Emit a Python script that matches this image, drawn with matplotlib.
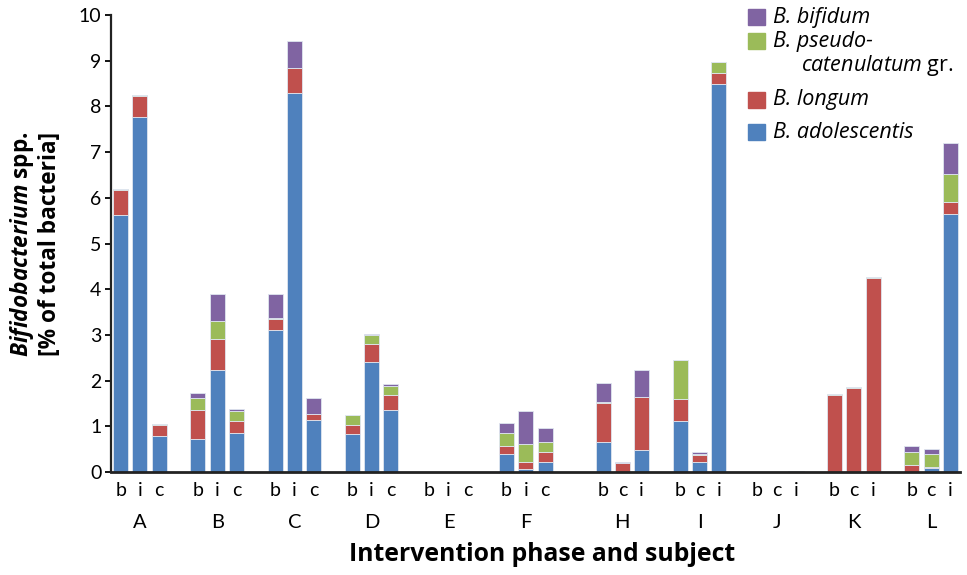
import numpy as np
import matplotlib
matplotlib.use("Agg")
import matplotlib.pyplot as plt
from matplotlib.patches import Rectangle

plt.rcParams['font.family'] = ['Lato', 'DejaVu Sans']
plt.rcParams['mathtext.fontset'] = 'custom'
plt.rcParams['mathtext.it'] = 'Open Sans:italic'
plt.rcParams['mathtext.rm'] = 'Open Sans'
plt.rcParams['mathtext.bfit'] = 'Open Sans:italic:bold'

subjects = ["A", "B", "C", "D", "E", "F", "H", "I", "J", "K", "L"]
phases_1 = ["b", "i", "c"]   # A-F
phases_2 = ["b", "c", "i"]   # H-L

# one value per bar, bars in order A b,i,c, B b,i,c, ... L b,c,i
adolescentis = [5.62, 7.76, 0.78,  0.73, 2.23, 0.86,  3.10, 8.30, 1.15,  0.84, 2.40, 1.35,
                0, 0, 0,  0.40, 0.07, 0.23,  0.66, 0.00, 0.49,  1.11, 0.23, 8.50,
                0, 0, 0,  0, 0, 0,  0.00, 0.09, 5.64]
longum = [0.56, 0.47, 0.26,  0.62, 0.68, 0.25,  0.24, 0.55, 0.13,  0.19, 0.40, 0.33,
          0, 0, 0,  0.17, 0.16, 0.21,  0.85, 0.20, 1.15,  0.49, 0.15, 0.24,
          0, 0, 0,  1.68, 1.85, 4.25,  0.16, 0.03, 0.27]
pseudocat = [0.01, 0.02, 0.01,  0.26, 0.39, 0.23,  0.02, 0.00, 0.00,  0.21, 0.20, 0.21,
             0, 0, 0,  0.28, 0.39, 0.21,  0.02, 0.00, 0.00,  0.85, 0.02, 0.22,
             0, 0, 0,  0.02, 0.02, 0.01,  0.29, 0.28, 0.61]
bifidum = [0, 0, 0,  0.13, 0.59, 0.03,  0.53, 0.57, 0.35,  0.00, 0.01, 0.03,
           0, 0, 0,  0.22, 0.72, 0.31,  0.41, 0.01, 0.59,  0.00, 0.03, 0.00,
           0, 0, 0.03,  0, 0, 0,  0.11, 0.10, 0.67]

series = [
    ("adolescentis", adolescentis, "#4F81BD"),
    ("longum", longum, "#C0504D"),
    ("pseudocat", pseudocat, "#9BBB59"),
    ("bifidum", bifidum, "#8064A2"),
]

# bar positions: 3 bars per subject, one empty slot between subjects,
# an extra empty slot between F and H
x = []
tick_labels = []
group_centers = []
slot = 0
for k, s in enumerate(subjects):
    if s == "H":
        slot += 1
    phases = phases_1 if k < 6 else phases_2
    for j in range(3):
        x.append(slot + j)
        tick_labels.append(phases[j])
    group_centers.append(slot + 1)
    slot += 4
x = np.array(x)

fig = plt.figure(figsize=(9.67, 5.75), dpi=100)
ax = fig.add_axes([0.1148, 0.179, 0.878, 0.795])

bottom = np.zeros(len(x))
for name, vals, color in series:
    vals = np.array(vals)
    ax.bar(x, vals, width=0.78, bottom=bottom, color=color,
           edgecolor="#dfe6f0", linewidth=0.6)
    bottom += vals

ax.set_xlim(-0.5, 43.5)
ax.set_ylim(0, 10)
ax.set_yticks(range(0, 11))
ax.tick_params(axis="y", direction="out", length=4, width=1.3, labelsize=14, pad=3)
ax.set_xticks(x)
ax.set_xticklabels(tick_labels, fontsize=14)
ax.tick_params(axis="x", length=0, pad=7)

for side in ["top", "right"]:
    ax.spines[side].set_visible(False)
ax.spines["left"].set_linewidth(1.6)
ax.spines["bottom"].set_linewidth(2)
ax.spines["left"].set_color("#222222")
ax.spines["bottom"].set_color("#222222")

for c, s in zip(group_centers, subjects):
    ax.text(c, -0.11, s, transform=ax.get_xaxis_transform(),
            ha="center", va="center", fontsize=14.5)

fig.text(0.561, 0.035, "Intervention phase and subject", ha="center", va="center",
         fontsize=17.8, fontweight="bold", family="Open Sans")
fig.text(0.023, 0.575, r"$\mathbfit{Bifidobacterium}$ spp.", rotation=90,
         ha="center", va="center", fontsize=16.3, fontweight="bold", family="Open Sans")
fig.text(0.052, 0.575, "[% of total bacteria]", rotation=90,
         ha="center", va="center", fontsize=16.3, fontweight="bold", family="Open Sans")

# legend drawn by hand (two-line entry for pseudocatenulatum)
leg_colors = ["#8064A2", "#9BBB59", "#C0504D", "#4F81BD"]
leg_square_y = [17, 41, 100, 132]
leg_texts = ["B. bifidum", "B. pseudo-", "B. longum", "B. adolescentis"]
W, H = 967, 575
for col, yc, txt in zip(leg_colors, leg_square_y, leg_texts):
    fig.patches.append(Rectangle((748 / W, 1 - (yc + 8) / H), 17 / W, 16 / H,
                                 transform=fig.transFigure, color=col))
    fig.text(773 / W, 1 - yc / H, txt, ha="left", va="center", fontsize=15.5,
             family="Open Sans", style="italic")
fig.text(801 / W, 1 - 66 / H, r"$\it{catenulatum}$ gr.", ha="left", va="center",
         fontsize=15.5, family="Open Sans")

fig.savefig("out.png", dpi=100)
